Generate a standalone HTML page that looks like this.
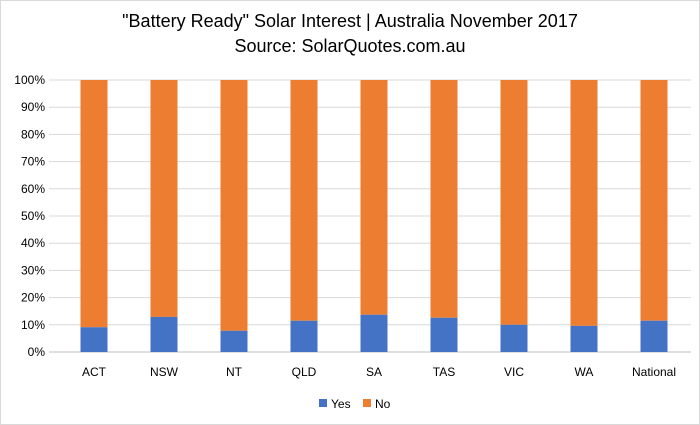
<!DOCTYPE html>
<html><head><meta charset="utf-8"><style>
body{margin:0;background:#fff;font-family:"Liberation Sans",sans-serif}
#wrap{position:relative;width:698px;height:423px;border:1px solid #d9d9d9;overflow:hidden}
</style></head><body>
<div id="wrap">
<svg id="chart" width="698" height="423">
<text x="349" y="26" text-anchor="middle" font-size="18" fill="#000">"Battery Ready" Solar Interest | Australia November 2017</text>
<text x="349" y="51" text-anchor="middle" font-size="18" fill="#000">Source: SolarQuotes.com.au</text>
</svg>
</div>
<script>
const categories=["ACT","NSW","NT","QLD","SA","TAS","VIC","WA","National"];
const yesValues=[9.1,12.9,7.8,11.5,13.7,12.6,10.0,9.6,11.5];
const yTicks=[0,10,20,30,40,50,60,70,80,90,100];
const svg=document.getElementById('chart');
const NS='http://www.w3.org/2000/svg';
const y0=351,y1=79,x0=58,step=70,bw=27;
const ys=v=>y0-(v/100)*(y0-y1);
const xc=i=>x0+step/2+step*i;
function mk(t,a){const e=document.createElementNS(NS,t);for(const k in a)e.setAttribute(k,a[k]);svg.appendChild(e);return e;}
yTicks.forEach(t=>{
 const l=mk('line',{x1:48,x2:690,y1:ys(t),y2:ys(t),stroke:t===0?'#bfbfbf':'#d9d9d9','stroke-width':1});
 
 
 const tx=mk('text',{x:44,y:ys(t)+4,'text-anchor':'end','font-size':12,fill:'#000'});
 tx.textContent=t+'%';
 
 
});
categories.forEach((c,i)=>{
 const v=yesValues[i];
 const no=mk('rect',{x:xc(i)-bw/2,y:ys(100),width:bw,height:ys(v)-ys(100),fill:'#ed7d31'});
 
 
 const yes=mk('rect',{x:xc(i)-bw/2,y:ys(v),width:bw,height:y0-ys(v),fill:'#4472c4'});
 
 
 const t=mk('text',{x:xc(i),y:375,'text-anchor':'middle','font-size':12,fill:'#000'});
 t.textContent=c;
 
 
});
const lg=[['Yes','#4472c4',318],['No','#ed7d31',362]];
lg.forEach(([n,col,x])=>{
 const r=mk('rect',{x:x,y:398,width:8,height:8,fill:col});
 
 
 const t=mk('text',{x:x+12,y:407,'font-size':12,fill:'#000'});
 t.textContent=n;
 
 
});
</script>
</body></html>
